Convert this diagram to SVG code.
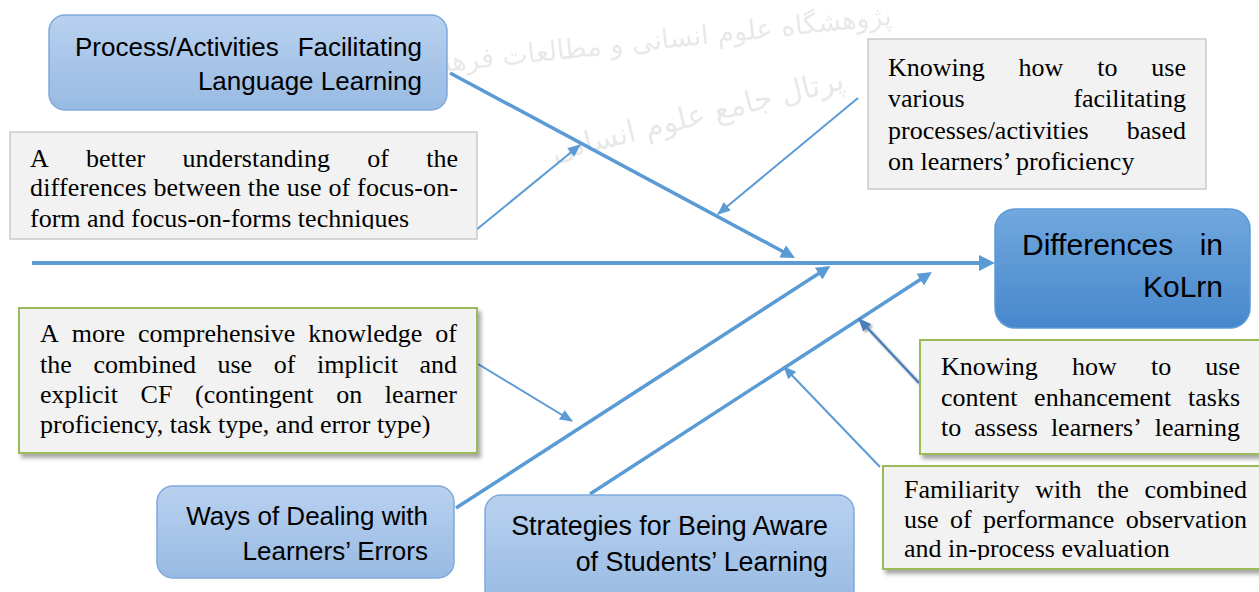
<svg xmlns="http://www.w3.org/2000/svg" width="1259" height="592" viewBox="0 0 1259 592">
  <style>
    .sans { font-family: "Liberation Sans", Arial, sans-serif; font-size: 26px; fill: #000; }
    .sans27 { font-family: "Liberation Sans", Arial, sans-serif; font-size: 26.8px; fill: #000; }
    .big { font-family: "Liberation Sans", Arial, sans-serif; font-size: 30px; fill: #000; }
    .ser { font-family: "Liberation Serif", "Times New Roman", serif; font-size: 26px; fill: #000; }
    .end { text-anchor: end; }
    .blue { fill: url(#gBlue); stroke: #7fa9dc; stroke-width: 1.5; }
    .dark { fill: url(#gDark); stroke: #5b9bd5; stroke-width: 1.5; }
    .gray { fill: #f2f2f2; stroke: #bfbfbf; stroke-width: 1.2; }
    .green { fill: #f2f2f2; stroke: #9bbb59; stroke-width: 2; filter: url(#shadow); }
    .spine { stroke: #5b9bd5; stroke-width: 4; fill: none; }
    .bone { stroke: #5b9bd5; stroke-width: 3.5; fill: none; }
    .thin { stroke: #5b9bd5; stroke-width: 2; fill: none; }
    .thinDark { stroke: #4a7ebb; stroke-width: 2.5; fill: none; }
    .wm { font-family: "DejaVu Sans", sans-serif; fill: #c8c8c8; opacity: 0.4; }
  </style>
  <defs>
    <linearGradient id="gBlue" x1="0" y1="0" x2="0" y2="1">
      <stop offset="0" stop-color="#b9d1ef"/>
      <stop offset="1" stop-color="#98bae3"/>
    </linearGradient>
    <linearGradient id="gDark" x1="0" y1="0" x2="0" y2="1">
      <stop offset="0" stop-color="#72a8de"/>
      <stop offset="1" stop-color="#4687cc"/>
    </linearGradient>
    <filter id="shadow" x="-5%" y="-5%" width="115%" height="125%">
      <feDropShadow dx="3" dy="4" stdDeviation="2" flood-color="#000" flood-opacity="0.35"/>
    </filter>
    <filter id="lineShadow" x="-20%" y="-20%" width="150%" height="150%">
      <feDropShadow dx="2" dy="2" stdDeviation="1.2" flood-color="#000" flood-opacity="0.35"/>
    </filter>
    <marker id="mSpine" markerUnits="userSpaceOnUse" viewBox="0 0 16 16" markerWidth="16" markerHeight="16" refX="8" refY="8" orient="auto">
      <path d="M0,0 L16,8 L0,16 z" fill="#5b9bd5"/>
    </marker>
    <marker id="mBone" markerUnits="userSpaceOnUse" viewBox="0 0 14 14" markerWidth="14" markerHeight="14" refX="7" refY="7" orient="auto">
      <path d="M0,0 L14,7 L0,14 z" fill="#5b9bd5"/>
    </marker>
    <marker id="mThin" markerUnits="userSpaceOnUse" viewBox="0 0 13 11" markerWidth="13" markerHeight="11" refX="12" refY="5.5" orient="auto">
      <path d="M0,0 L13,5.5 L0,11 z" fill="#5b9bd5"/>
    </marker>
    <marker id="mThinDark" markerUnits="userSpaceOnUse" viewBox="0 0 13 11" markerWidth="13" markerHeight="11" refX="12" refY="5.5" orient="auto">
      <path d="M0,0 L13,5.5 L0,11 z" fill="#4a7ebb"/>
    </marker>
    <clipPath id="clipGray2"><rect x="10" y="132" width="468" height="97"/></clipPath>
    <clipPath id="clipGreen3"><rect x="884" y="467" width="375" height="93"/></clipPath>
  </defs>

  <rect width="1259" height="592" fill="#ffffff"/>

  <g id="watermark">
    <text class="wm" x="650" y="50" font-size="27" text-anchor="middle" transform="rotate(-6 650 50)">پژوهشگاه علوم انسانی و مطالعات فرهنگی</text>
    <text class="wm" x="700" y="125" font-size="30" text-anchor="middle" transform="rotate(-14 700 125)">پرتال جامع علوم انسانی</text>
  </g>

  <g id="connectors">
    <line class="spine" x1="32" y1="263" x2="987" y2="263" marker-end="url(#mSpine)"/>
    <line class="bone" x1="450" y1="73" x2="788.8" y2="254.7" marker-end="url(#mBone)"/>
    <line class="bone" x1="456" y1="508" x2="824.5" y2="269.8" marker-end="url(#mBone)"/>
    <line class="bone" x1="590" y1="494" x2="926.1" y2="275.8" marker-end="url(#mBone)"/>
    <line class="thin" x1="476" y1="230" x2="580" y2="145" marker-end="url(#mThin)"/>
    <line class="thin" x1="858" y1="98" x2="718" y2="214" marker-end="url(#mThin)"/>
    <line class="thin" x1="478" y1="364" x2="572" y2="421" marker-end="url(#mThin)"/>
    <line class="thinDark" x1="919" y1="383" x2="859" y2="319" marker-end="url(#mThinDark)" filter="url(#lineShadow)"/>
    <line class="thin" x1="880" y1="467" x2="784" y2="367" marker-end="url(#mThin)"/>
  </g>

  <g id="node-process">
    <rect class="blue" x="49" y="15" width="398" height="95" rx="16"/>
    <text class="sans" x="75" y="56">Process/Activities</text>
    <text class="sans end" x="422" y="56">Facilitating</text>
    <text class="sans end" x="422" y="90">Language Learning</text>
  </g>

  <g id="node-focus">
    <rect class="gray" x="10" y="132" width="467" height="107"/>
    <g clip-path="url(#clipGray2)">
      <text class="ser" x="30" y="167">A</text>
      <text class="ser" x="86" y="167">better</text>
      <text class="ser" x="182.6" y="167">understanding</text>
      <text class="ser" x="367.2" y="167">of</text>
      <text class="ser end" x="458" y="167">the</text>
      <text class="ser" x="30" y="196" textLength="428" lengthAdjust="spacing">differences between the use of focus-on-</text>
      <text class="ser" x="30" y="227">form and focus-on-forms techniques</text>
    </g>
  </g>

  <g id="node-various">
    <rect class="gray" x="868" y="39" width="338" height="150"/>
    <text class="ser" x="888" y="76">Knowing</text>
    <text class="ser" x="1018.6" y="76">how</text>
    <text class="ser" x="1097.2" y="76">to</text>
    <text class="ser end" x="1186" y="76">use</text>
    <text class="ser" x="888" y="107">various</text>
    <text class="ser end" x="1186" y="107">facilitating</text>
    <text class="ser" x="888" y="139">processes/activities</text>
    <text class="ser end" x="1186" y="139">based</text>
    <text class="ser" x="888" y="170">on learners’ proficiency</text>
  </g>

  <g id="node-kolrn">
    <rect class="dark" x="995" y="209" width="255" height="119" rx="20"/>
    <text class="big" x="1022" y="255">Differences</text>
    <text class="big end" x="1223" y="255">in</text>
    <text class="big end" x="1223" y="297" font-size="31">KoLrn</text>
  </g>

  <g id="node-cf">
    <rect class="green" x="19" y="308" width="458" height="145"/>
    <text class="ser" x="40" y="342">A</text>
    <text class="ser" x="71.7" y="342">more</text>
    <text class="ser" x="138" y="342">comprehensive</text>
    <text class="ser" x="308.3" y="342">knowledge</text>
    <text class="ser end" x="457" y="342">of</text>
    <text class="ser" x="40" y="373">the</text>
    <text class="ser" x="93.4" y="373">combined</text>
    <text class="ser" x="217.5" y="373">use</text>
    <text class="ser" x="273.8" y="373">of</text>
    <text class="ser" x="317.1" y="373">implicit</text>
    <text class="ser end" x="457" y="373">and</text>
    <text class="ser" x="40" y="403">explicit</text>
    <text class="ser" x="140.6" y="403">CF</text>
    <text class="ser" x="195.1" y="403">(contingent</text>
    <text class="ser" x="336.2" y="403">on</text>
    <text class="ser end" x="457" y="403">learner</text>
    <text class="ser" x="40" y="433">proficiency, task type, and error type)</text>
  </g>

  <g id="node-errors">
    <rect class="blue" x="157" y="486" width="297" height="92" rx="16"/>
    <text class="sans end" x="428" y="525">Ways of Dealing with</text>
    <text class="sans end" x="428" y="560">Learners’ Errors</text>
  </g>

  <g id="node-strategies">
    <rect class="blue" x="485" y="495" width="369" height="110" rx="16"/>
    <text class="sans27 end" x="828" y="535">Strategies for Being Aware</text>
    <text class="sans27 end" x="828" y="571">of Students’ Learning</text>
  </g>

  <g id="node-content">
    <rect class="green" x="920" y="340" width="345" height="114"/>
    <text class="ser" x="941" y="375">Knowing</text>
    <text class="ser" x="1072" y="375">how</text>
    <text class="ser" x="1151" y="375">to</text>
    <text class="ser end" x="1240" y="375">use</text>
    <text class="ser" x="941" y="406">content</text>
    <text class="ser" x="1034.1" y="406">enhancement</text>
    <text class="ser end" x="1240" y="406">tasks</text>
    <text class="ser" x="941" y="436">to</text>
    <text class="ser" x="974.3" y="436">assess</text>
    <text class="ser" x="1050.9" y="436">learners’</text>
    <text class="ser end" x="1240" y="436">learning</text>
  </g>

  <g id="node-familiarity">
    <rect class="green" x="883" y="466" width="382" height="103"/>
    <g clip-path="url(#clipGreen3)">
      <text class="ser" x="904" y="498">Familiarity</text>
      <text class="ser" x="1035.2" y="498">with</text>
      <text class="ser" x="1097.1" y="498">the</text>
      <text class="ser end" x="1247" y="498">combined</text>
      <text class="ser" x="904" y="528">use</text>
      <text class="ser" x="950" y="528">of</text>
      <text class="ser" x="983" y="528">performance</text>
      <text class="ser end" x="1247" y="528">observation</text>
      <text class="ser" x="904" y="557">and in-process evaluation</text>
    </g>
  </g>
</svg>
